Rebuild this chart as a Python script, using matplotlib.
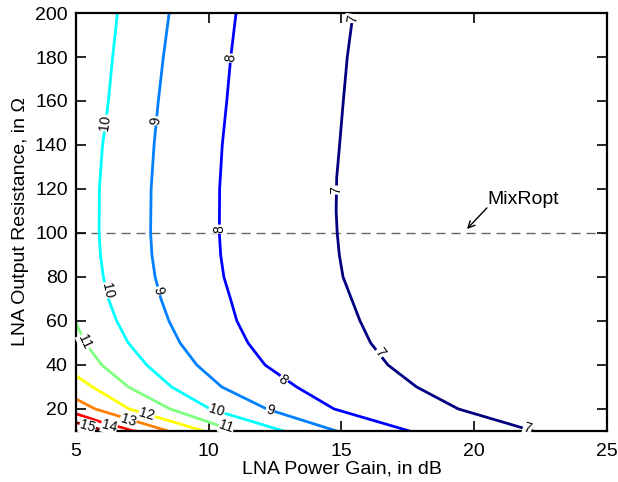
import numpy as np
import matplotlib
matplotlib.use("Agg")
import matplotlib.pyplot as plt

plt.rcParams['font.family'] = ['Liberation Sans', 'DejaVu Sans']

# Contour levels and colours
levels = [7, 8, 9, 10, 11, 12, 13, 14, 15]
level_colors = ['#000080', '#0000FF', '#0080FF', '#00FFFF', '#80FF80',
                '#FFFF00', '#FF8000', '#FF0000', '#800000']

# Contour lines: LNA power gain (dB) vs LNA output resistance (ohm)
g7 = [15.44, 15.22, 15.07, 14.93, 14.82, 14.80, 14.84, 14.92, 15.06, 15.38, 15.70, 16.10, 16.75, 17.83, 19.40, 22.21]
r7 = [200, 180, 160, 140, 125, 110, 100, 90, 80, 70, 60, 50, 40, 30, 20, 10]
g8 = [11.03, 10.83, 10.68, 10.51, 10.41, 10.40, 10.45, 10.57, 10.82, 11.06, 11.48, 12.12, 13.31, 14.72, 17.55]
r8 = [200, 180, 160, 140, 120, 100, 90, 80, 70, 60, 50, 40, 30, 20, 10]
g9 = [8.51, 8.29, 8.10, 7.94, 7.83, 7.81, 7.86, 7.98, 8.20, 8.50, 8.92, 9.55, 10.49, 12.18, 14.80]
r9 = [200, 180, 160, 140, 120, 100, 90, 80, 70, 60, 50, 40, 30, 20, 10]
g10 = [6.56, 6.38, 6.22, 6.00, 5.88, 5.87, 5.92, 6.03, 6.22, 6.53, 6.97, 7.66, 8.60, 10.05, 12.81]
r10 = [200, 180, 160, 140, 120, 100, 90, 80, 70, 60, 50, 40, 30, 20, 10]
g11 = [5.00, 5.35, 5.97, 6.97, 8.54, 10.98]
r11 = [59, 50, 40, 30, 20, 10]
g12 = [5.00, 5.62, 7.00, 9.80]
r12 = [35, 30, 20, 10]
g13 = [5.00, 5.72, 8.45]
r13 = [24.5, 20, 10]
g14 = [5.00, 5.95, 7.22]
r14 = [17.8, 14.0, 10]
g15 = [5.00, 6.10]
r15 = [13.8, 10]

# Contour label positions (gain, resistance) for each level
lab_g7 = [15.42, 14.80, 16.45, 22.00]
lab_r7 = [197.5, 119.5, 45.5, 11.0]
lab_g8 = [10.83, 10.40, 12.81]
lab_r8 = [179.5, 101.7, 33.2]
lab_g9 = [8.01, 8.10, 12.31]
lab_r9 = [151.0, 73.6, 19.2]
lab_g10 = [6.10, 6.18, 10.30]
lab_r10 = [150.0, 74.0, 19.2]
lab_g11 = [5.34, 10.67]
lab_r11 = [50.6, 12.0]
lab_g12 = [7.66]
lab_r12 = [17.3]
lab_g13 = [6.97]
lab_r13 = [15.0]
lab_g14 = [6.25]
lab_r14 = [12.3]
lab_g15 = [5.43]
lab_r15 = [11.9]

mixropt = 100

xticks = [5, 10, 15, 20, 25]
yticks = [20, 40, 60, 80, 100, 120, 140, 160, 180, 200]

curves_g = [g7, g8, g9, g10, g11, g12, g13, g14, g15]
curves_r = [r7, r8, r9, r10, r11, r12, r13, r14, r15]
labs_g = [lab_g7, lab_g8, lab_g9, lab_g10, lab_g11, lab_g12, lab_g13, lab_g14, lab_g15]
labs_r = [lab_r7, lab_r8, lab_r9, lab_r10, lab_r11, lab_r12, lab_r13, lab_r14, lab_r15]

fig = plt.figure(figsize=(6.18, 4.82), dpi=100)
ax = fig.add_axes([0.123, 0.106, 0.859, 0.867])
ax.set_xlim(5, 25)
ax.set_ylim(10, 200)

ax.axhline(mixropt, color='#666666', lw=1.0, ls=(0, (6.5, 4.3)), zorder=1)

for lev, col, gs, rs, lg, lr in zip(levels, level_colors, curves_g, curves_r, labs_g, labs_r):
    ax.plot(gs, rs, color=col, lw=2.0, solid_joinstyle='round', zorder=2)
    pts = ax.transData.transform(np.column_stack([gs, rs]))
    for x, y in zip(lg, lr):
        p = ax.transData.transform((x, y))
        best = None
        for i in range(len(pts) - 1):
            a, b = pts[i], pts[i + 1]
            ab = b - a
            t = np.clip(np.dot(p - a, ab) / np.dot(ab, ab), 0, 1)
            q = a + t * ab
            d = np.hypot(*(p - q))
            if best is None or d < best[0]:
                best = (d, ab)
        ang = np.degrees(np.arctan2(best[1][1], best[1][0]))
        while ang > 90:
            ang -= 180
        while ang < -90:
            ang += 180
        ax.text(x, y, str(lev), fontsize=10, rotation=ang, rotation_mode='anchor',
                ha='center', va='center', zorder=3,
                bbox=dict(boxstyle='square,pad=0.05', fc='white', ec='none'))

ax.annotate('', xy=(19.73, 101.8), xytext=(20.48, 111.4),
            arrowprops=dict(arrowstyle='->', color='black', lw=1.0,
                            mutation_scale=12, shrinkA=0, shrinkB=0), zorder=4)
ax.text(20.50, 111.5, 'MixRopt', fontsize=14, ha='left', va='bottom')

ax.set_xticks(xticks)
ax.set_yticks(yticks)
ax.tick_params(direction='in', top=True, right=True, length=7, width=1.2,
               labelsize=14, pad=6)
ax.tick_params(axis='x', pad=9)
for s in ax.spines.values():
    s.set_linewidth(1.6)

ax.set_xlabel('LNA Power Gain, in dB', fontsize=14, labelpad=0)
ax.set_ylabel('LNA Output Resistance, in Ω', fontsize=14, labelpad=4)

fig.savefig('out.png', dpi=100)
